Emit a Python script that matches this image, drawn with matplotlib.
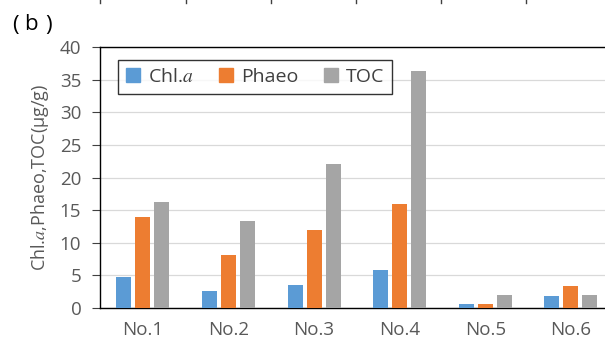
import numpy as np
import matplotlib.pyplot as plt
from matplotlib.lines import Line2D
from matplotlib.patches import Patch

plt.rcParams['font.family'] = ['Open Sans', 'Noto Sans CJK JP', 'DejaVu Sans']
plt.rcParams['mathtext.fontset'] = 'stix'

sites = ["No.1", "No.2", "No.3", "No.4", "No.5", "No.6"]
chla = [4.75, 2.6, 3.6, 5.8, 0.6, 1.85]
phaeo = [13.9, 8.2, 11.9, 15.9, 0.6, 3.35]
toc = [16.3, 13.4, 22.0, 36.3, 2.0, 1.95]

series = [("Chl.$\\mathit{a}$", chla, "#5B9BD5"),
          ("Phaeo", phaeo, "#ED7D31"),
          ("TOC", toc, "#A5A5A5")]

W, H = 605, 345
fig = plt.figure(figsize=(W / 100, H / 100), dpi=100)
ax = fig.add_axes([0.1653, 0.1072, 0.849, 0.7566])

x = np.arange(len(sites))
width = 0.175
step = 0.222
for i, (name, vals, col) in enumerate(series):
    ax.bar(x + (i - 1) * step, vals, width, color=col, zorder=3)

ax.set_xlim(-0.5, len(sites) - 0.5)
ax.set_ylim(0, 40)
ax.set_yticks(np.arange(0, 41, 5))
ax.set_xticks(x)
ax.set_xticklabels(sites)
ax.grid(axis="y", color="#D9D9D9", lw=0.9, zorder=0)
ax.tick_params(axis="y", length=5.5, width=0.8, color="#404040",
               labelsize=13.5, labelcolor="#595959", pad=8)
ax.tick_params(axis="x", length=0, labelsize=13.5, labelcolor="#595959", pad=9)
for s in ["left", "bottom", "top"]:
    ax.spines[s].set_color("black")
    ax.spines[s].set_linewidth(1.0)
ax.spines["right"].set_visible(False)

ax.set_ylabel("Chl.$\\mathit{a}$,Phaeo,TOC(μg/g)", fontsize=13,
              color="#595959", labelpad=6)

handles = [Patch(color=c) for _, _, c in series]
leg = ax.legend(handles, [s[0] for s in series], ncol=3, loc="upper left",
                bbox_to_anchor=(0.036, 0.95), borderaxespad=0,
                fancybox=False, edgecolor="black", fontsize=14,
                handlelength=0.7, handleheight=0.7, handletextpad=0.4,
                columnspacing=1.35, borderpad=0.4)
leg.get_frame().set_linewidth(1.0)
for t in leg.get_texts():
    t.set_color("#404040")

# panel tag "( b )"
for px, s in [(12, "("), (24, "b"), (45, ")")]:
    fig.text(px / W, 1 - 25 / H, s, fontsize=16, color="black", va="center")

# tick marks left over from the panel above
for px in [100, 186, 271, 356, 441, 526]:
    fig.add_artist(Line2D([px / W, px / W], [1.0, 1 - 3 / H],
                          color="#404040", lw=1.0))

fig.savefig("out.png", dpi=100)
